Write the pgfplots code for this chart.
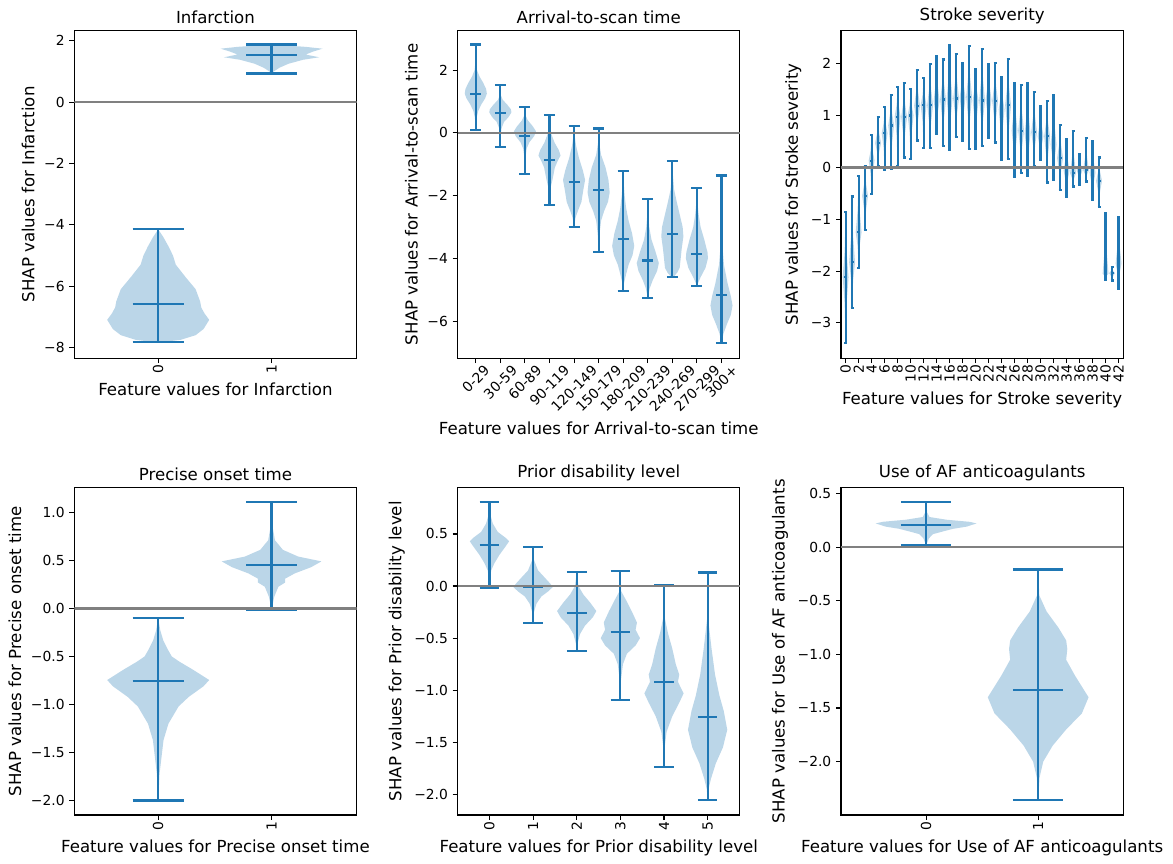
\documentclass[border=0pt]{standalone}
\usepackage{pgfplots}
\pgfplotsset{compat=1.18}
\usepackage{fontspec}
\setmainfont{DejaVu Sans}
\usepackage{graphicx}
\definecolor{c0}{RGB}{31,119,180}
\definecolor{g50}{RGB}{128,128,128}

% violin body: #1 position, #2 list of y/halfwidth pairs
\newcommand\violinbody[2]{%
  \gdef\vR{}\gdef\vL{}%
  \foreach \yy/\ww in {#2} {%
    \pgfmathsetmacro\xr{#1+\ww}%
    \pgfmathsetmacro\xl{#1-\ww}%
    \xdef\vR{\vR(\xr,\yy)}%
    \xdef\vL{(\xl,\yy)\vL}%
  }%
  \edef\tmpplot{\noexpand\addplot[vbody] coordinates {\vR\vL};}%
  \tmpplot
}
% whiskers: #1 pos, #2 min, #3 median, #4 max, #5 cap half width
\newcommand\whisk[5]{%
  \pgfmathsetmacro\xa{#1-#5}\pgfmathsetmacro\xb{#1+#5}%
  \edef\tmpplot{%
    \noexpand\addplot[vline] coordinates {(#1,#2)(#1,#4)};%
    \noexpand\addplot[vline] coordinates {(\xa,#2)(\xb,#2)};%
    \noexpand\addplot[vline] coordinates {(\xa,#3)(\xb,#3)};%
    \noexpand\addplot[vline] coordinates {(\xa,#4)(\xb,#4)};}%
  \tmpplot
}
\newcommand\rl[1]{\rotatebox{90}{#1}}
\newcommand\rf[1]{\rotatebox{45}{#1}}

\pgfplotsset{
  vstyle/.style={
    scale only axis, width=203.26bp, height=235.87bp,
    axis line style={line width=0.8bp},
    every tick/.style={black, line width=0.8bp},
    major tick length=3.5bp,
    tick align=outside, xtick pos=bottom, ytick pos=left,
    tick label style={font=\fontsize{10}{12}\selectfont},
    label style={font=\fontsize{12}{14}\selectfont},
    title style={font=\fontsize{12}{14}\selectfont, yshift=-4.8bp},
    xticklabel style={anchor=north, yshift=2.5bp},
    anchor=south west,
  },
  vbody/.style={fill=c0, fill opacity=0.3, draw=none, forget plot},
  vline/.style={c0, line width=1.6bp, forget plot, mark=none},
  zline/.style={g50, line width=1.6bp, forget plot, mark=none},
}

\def\strokedata{0/-3.39/-2.12/-0.86, 1/-2.71/-1.83/-0.56, 2/-1.94/-1.25/-0.17,
3/-1.20/-0.55/0.03, 4/-0.51/0.13/0.63, 5/0.02/0.47/0.97, 6/-0.05/0.66/1.16,
7/-0.03/0.81/1.40, 8/0.03/0.98/1.55, 9/0.19/0.97/1.63, 10/0.17/1.00/1.52,
11/0.52/1.19/1.88, 12/0.37/1.20/1.73, 13/0.37/1.20/2.00, 14/0.64/1.28/2.15,
15/0.42/1.31/2.08, 16/0.33/1.33/2.36, 17/0.59/1.33/2.19, 18/0.52/1.35/2.02,
19/0.36/1.36/2.35, 20/0.36/1.29/1.90, 21/0.41/1.29/2.29, 22/0.57/1.31/2.00,
23/0.48/1.28/2.02, 24/0.15/1.12/1.74, 25/0.17/1.20/2.09, 26/-0.19/0.71/1.63,
27/-0.10/0.71/1.59, 28/-0.16/0.65/1.63, 29/0.03/0.68/1.45, 30/0.14/0.60/1.18,
31/-0.29/0.60/1.28, 32/-0.24/0.44/1.40, 33/-0.44/0.18/0.82, 34/-0.56/-0.06/0.55,
35/-0.37/-0.11/0.71, 36/-0.33/-0.05/0.26, 37/-0.27/-0.05/0.57, 38/-0.62/-0.10/0.50,
39/-0.77/-0.26/0.19, 40/-2.16/-2.05/-0.89, 41/-2.18/-2.04/-1.92, 42/-2.35/-1.85/-0.96}

\begin{document}
\begin{tikzpicture}
\useasboundingbox (0,0) rectangle (844.56bp,622.08bp);

% ---------------- Infarction
\begin{axis}[vstyle, at={(53.50bp,364.18bp)},
  xmin=-0.74, xmax=1.75, ymin=-8.35, ymax=2.33,
  xtick={0,1}, xticklabels={\rl{0},\rl{1}},
  ytick={-8,-6,-4,-2,0,2}, yticklabels={−8,−6,−4,−2,0,2},
  title={Infarction}, xlabel={Feature values for Infarction},
  ylabel={SHAP values for Infarction}]
\violinbody{0}{-7.82/0.05,-7.75/0.2,-7.6/0.33,-7.4/0.40,-7.1/0.45,-6.9/0.41,-6.7/0.38,-6.5/0.37,-6.1/0.33,-5.7/0.24,-5.3/0.155,-5.0/0.13,-4.7/0.09,-4.4/0.045,-4.15/0}
\violinbody{1}{0.933/0,1.0/0.02,1.12/0.07,1.25/0.15,1.38/0.28,1.46/0.42,1.55/0.30,1.65/0.37,1.74/0.45,1.80/0.30,1.876/0}
\whisk{0}{-7.82}{-6.59}{-4.15}{0.225}
\whisk{1}{0.933}{1.54}{1.876}{0.225}
\addplot[zline] coordinates {(-0.74,0)(1.75,0)};
\end{axis}

% ---------------- Arrival-to-scan time
\begin{axis}[vstyle, at={(329.47bp,364.18bp)},
  xmin=-0.74, xmax=10.75, ymin=-7.18, ymax=3.26,
  xtick={0,1,2,3,4,5,6,7,8,9,10},
  xticklabels={\rf{0-29},\rf{30-59},\rf{60-89},\rf{90-119},\rf{120-149},\rf{150-179},\rf{180-209},\rf{210-239},\rf{240-269},\rf{270-299},\rf{300+}},
  ytick={-6,-4,-2,0,2}, yticklabels={−6,−4,−2,0,2},
  title={Arrival-to-scan time}, xlabel={Feature values for Arrival-to-scan time},
  ylabel={SHAP values for Arrival-to-scan time}]
\violinbody{0}{0.10/0,0.3/0.01,0.5/0.04,0.7/0.10,0.9/0.22,1.1/0.38,1.25/0.45,1.4/0.42,1.6/0.30,1.8/0.15,2.0/0.05,2.3/0.01,2.82/0}
\violinbody{1}{-0.44/0,-0.1/0.01,0.15/0.05,0.35/0.15,0.5/0.33,0.65/0.45,0.75/0.43,0.9/0.28,1.05/0.10,1.2/0.02,1.53/0}
\violinbody{2}{-1.30/0,-0.8/0.02,-0.5/0.07,-0.3/0.18,-0.1/0.38,0.05/0.45,0.2/0.33,0.4/0.12,0.55/0.03,0.83/0}
\violinbody{3}{-2.29/0,-1.95/0.02,-1.7/0.06,-1.5/0.12,-1.3/0.17,-1.1/0.22,-0.9/0.33,-0.72/0.45,-0.55/0.38,-0.3/0.2,0.0/0.06,0.2/0.02,0.57/0}
\violinbody{4}{-3.0/0,-2.7/0.06,-2.5/0.15,-2.2/0.30,-1.8/0.38,-1.5/0.45,-1.2/0.36,-0.8/0.2,-0.4/0.08,0.0/0.01,0.22/0}
\violinbody{5}{-3.79/0,-3.2/0.04,-2.8/0.10,-2.5/0.22,-2.2/0.38,-1.9/0.45,-1.5/0.40,-1.1/0.28,-0.7/0.10,-0.3/0.02,0.14/0}
\violinbody{6}{-5.04/0,-4.8/0.03,-4.5/0.12,-4.2/0.22,-3.9/0.38,-3.6/0.45,-3.2/0.36,-2.8/0.22,-2.4/0.12,-2.0/0.06,-1.6/0.02,-1.21/0}
\violinbody{7}{-5.26/0,-4.95/0.08,-4.7/0.20,-4.4/0.38,-4.15/0.45,-3.8/0.32,-3.4/0.15,-3.0/0.06,-2.6/0.02,-2.11/0}
\violinbody{8}{-4.59/0.05,-4.45/0.2,-4.3/0.3,-4.0/0.34,-3.7/0.38,-3.3/0.45,-3.0/0.42,-2.6/0.30,-2.2/0.18,-1.8/0.07,-1.3/0.02,-0.89/0}
\violinbody{9}{-4.87/0,-4.6/0.15,-4.3/0.35,-4.0/0.45,-3.8/0.43,-3.4/0.30,-3.0/0.15,-2.6/0.07,-2.2/0.02,-1.76/0}
\violinbody{10}{-6.69/0,-6.4/0.08,-6.1/0.22,-5.8/0.38,-5.5/0.45,-5.2/0.38,-4.8/0.25,-4.2/0.10,-3.5/0.03,-2.5/0.01,-1.36/0}
\whisk{0}{0.10}{1.24}{2.82}{0.225}
\whisk{1}{-0.44}{0.64}{1.53}{0.225}
\whisk{2}{-1.30}{-0.09}{0.83}{0.225}
\whisk{3}{-2.29}{-0.86}{0.57}{0.225}
\whisk{4}{-3.00}{-1.56}{0.22}{0.225}
\whisk{5}{-3.79}{-1.82}{0.14}{0.225}
\whisk{6}{-5.04}{-3.37}{-1.21}{0.225}
\whisk{7}{-5.26}{-4.07}{-2.11}{0.225}
\whisk{8}{-4.59}{-3.21}{-0.89}{0.225}
\whisk{9}{-4.87}{-3.86}{-1.76}{0.225}
\whisk{10}{-6.69}{-5.17}{-1.36}{0.225}
\addplot[zline] coordinates {(-0.74,0)(10.75,0)};
\end{axis}

% ---------------- Stroke severity
\begin{axis}[vstyle, at={(605.52bp,364.18bp)},
  xmin=-0.71, xmax=42.73, ymin=-3.68, ymax=2.64,
  xtick={0,2,...,42},
  xticklabels={\rl{0},\rl{2},\rl{4},\rl{6},\rl{8},\rl{10},\rl{12},\rl{14},\rl{16},\rl{18},\rl{20},\rl{22},\rl{24},\rl{26},\rl{28},\rl{30},\rl{32},\rl{34},\rl{36},\rl{38},\rl{40},\rl{42}},
  ytick={-3,-2,-1,0,1,2}, yticklabels={−3,−2,−1,0,1,2},
  title={Stroke severity}, xlabel={Feature values for Stroke severity},
  ylabel={SHAP values for Stroke severity}]
\foreach \vp/\va/\vm/\vb in \strokedata {%
  \pgfmathsetmacro\vlo{(\vm)-0.4*((\vm)-(\va))}%
  \pgfmathsetmacro\vhi{(\vm)+0.4*((\vb)-(\vm))}%
  \violinbody{\vp}{\va/0,\vlo/0.15,\vm/0.45,\vhi/0.15,\vb/0}%
}
\foreach \vp/\va/\vm/\vb in \strokedata {%
  \whisk{\vp}{\va}{\vm}{\vb}{0.225}%
}
\addplot[zline] coordinates {(-0.71,0)(42.73,0)};
\end{axis}

% ---------------- Precise onset time
\begin{axis}[vstyle, at={(53.50bp,35.28bp)},
  xmin=-0.74, xmax=1.75, ymin=-2.15, ymax=1.26,
  xtick={0,1}, xticklabels={\rl{0},\rl{1}},
  ytick={-2,-1.5,-1,-0.5,0,0.5,1}, yticklabels={−2.0,−1.5,−1.0,−0.5,0.0,0.5,1.0},
  title={Precise onset time}, xlabel={Feature values for Precise onset time},
  ylabel={SHAP values for Precise onset time}]
\violinbody{0}{-2.0/0,-1.72/0.012,-1.37/0.047,-1.2/0.09,-1.02/0.18,-0.92/0.27,-0.81/0.40,-0.745/0.45,-0.64/0.31,-0.556/0.19,-0.50/0.12,-0.434/0.088,-0.33/0.044,-0.226/0.018,-0.10/0}
\violinbody{1}{-0.017/0,0.12/0.023,0.226/0.06,0.27/0.12,0.31/0.12,0.365/0.205,0.43/0.35,0.49/0.44,0.54/0.235,0.61/0.10,0.71/0.03,0.85/0.009,1.108/0}
\whisk{0}{-2.0}{-0.757}{-0.10}{0.225}
\whisk{1}{-0.017}{0.45}{1.108}{0.225}
\addplot[zline] coordinates {(-0.74,0)(1.75,0)};
\end{axis}

% ---------------- Prior disability level
\begin{axis}[vstyle, at={(329.47bp,35.28bp)},
  xmin=-0.73, xmax=5.74, ymin=-2.198, ymax=0.947,
  xtick={0,1,2,3,4,5}, xticklabels={\rl{0},\rl{1},\rl{2},\rl{3},\rl{4},\rl{5}},
  ytick={-2,-1.5,-1,-0.5,0,0.5}, yticklabels={−2.0,−1.5,−1.0,−0.5,0.0,0.5},
  title={Prior disability level}, xlabel={Feature values for Prior disability level},
  ylabel={SHAP values for Prior disability level}]
\violinbody{0}{-0.016/0,0.05/0.01,0.15/0.04,0.22/0.115,0.30/0.23,0.38/0.37,0.43/0.45,0.46/0.38,0.52/0.19,0.60/0.077,0.70/0.01,0.806/0}
\violinbody{1}{-0.352/0,-0.25/0.02,-0.17/0.077,-0.10/0.19,-0.05/0.35,-0.01/0.45,0.02/0.40,0.08/0.27,0.15/0.115,0.25/0.02,0.374/0}
\violinbody{2}{-0.621/0,-0.55/0.02,-0.46/0.077,-0.38/0.19,-0.30/0.37,-0.24/0.45,-0.16/0.31,-0.08/0.15,0.0/0.04,0.134/0}
\violinbody{3}{-1.094/0,-0.90/0.015,-0.75/0.06,-0.65/0.15,-0.57/0.35,-0.50/0.45,-0.42/0.35,-0.35/0.38,-0.25/0.27,-0.15/0.15,-0.05/0.02,0.144/0}
\violinbody{4}{-1.734/0,-1.55/0.015,-1.40/0.06,-1.25/0.19,-1.12/0.35,-1.03/0.45,-0.92/0.32,-0.85/0.35,-0.75/0.27,-0.6/0.19,-0.45/0.09,-0.3/0.015,0.01/0}
\violinbody{5}{-2.054/0,-1.95/0.02,-1.85/0.077,-1.70/0.19,-1.55/0.35,-1.38/0.45,-1.2/0.37,-1.05/0.27,-0.85/0.17,-0.6/0.09,-0.3/0.008,0.131/0}
\whisk{0}{-0.016}{0.394}{0.806}{0.225}
\whisk{1}{-0.352}{-0.01}{0.374}{0.225}
\whisk{2}{-0.621}{-0.259}{0.134}{0.225}
\whisk{3}{-1.094}{-0.438}{0.144}{0.225}
\whisk{4}{-1.734}{-0.918}{0.01}{0.225}
\whisk{5}{-2.054}{-1.254}{0.131}{0.225}
\addplot[zline] coordinates {(-0.73,0)(5.74,0)};
\end{axis}

% ---------------- Use of AF anticoagulants
\begin{axis}[vstyle, at={(605.52bp,35.28bp)},
  xmin=-0.76, xmax=1.76, ymin=-2.497, ymax=0.556,
  xtick={0,1}, xticklabels={\rl{0},\rl{1}},
  ytick={-2,-1.5,-1,-0.5,0,0.5}, yticklabels={−2.0,−1.5,−1.0,−0.5,0.0,0.5},
  title={Use of AF anticoagulants}, xlabel={Feature values for Use of AF anticoagulants},
  ylabel={SHAP values for Use of AF anticoagulants}]
\violinbody{0}{0.015/0,0.08/0.024,0.12/0.06,0.14/0.13,0.17/0.24,0.19/0.36,0.22/0.45,0.235/0.39,0.255/0.18,0.28/0.03,0.32/0.01,0.419/0}
\violinbody{1}{-2.36/0,-2.15/0.012,-2.0/0.045,-1.85/0.13,-1.7/0.25,-1.55/0.39,-1.4/0.45,-1.2/0.33,-1.05/0.25,-0.95/0.26,-0.87/0.25,-0.75/0.18,-0.6/0.075,-0.45/0.01,-0.21/0}
\whisk{0}{0.015}{0.205}{0.419}{0.225}
\whisk{1}{-2.36}{-1.33}{-0.21}{0.225}
\addplot[zline] coordinates {(-0.76,0)(1.76,0)};
\end{axis}
\end{tikzpicture}
\end{document}
